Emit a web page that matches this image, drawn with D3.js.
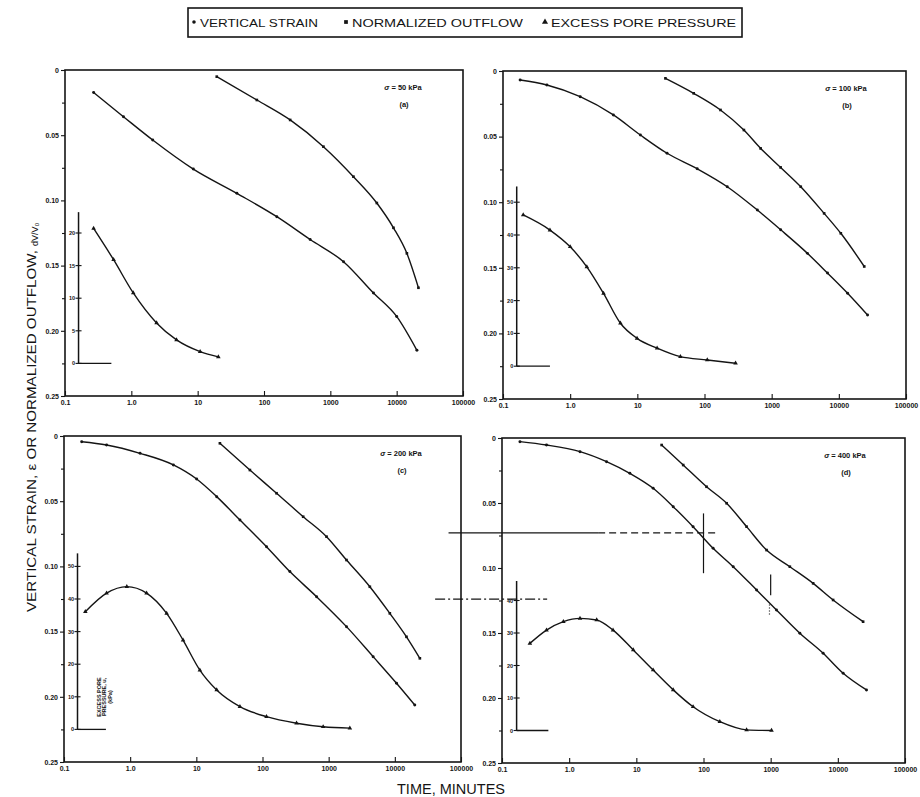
<!DOCTYPE html>
<html>
<head>
<meta charset="utf-8">
<script src="https://cdn.jsdelivr.net/npm/d3@7"></script>
<style>
  body { margin: 0; background: #fff; }
  svg { display: block; font-family: "Liberation Sans", Arial, sans-serif; }
</style>
</head>
<body>
<svg id="chart" width="920" height="797"></svg>
<script>
// ---------------- //
// DATA             //
// ---------------- //
var loads = [50, 100, 200, 400];                  // applied stress, kPa
var panelTags = ["(a)", "(b)", "(c)", "(d)"];
var timeTicks = [0.1, 1, 10, 100, 1000, 10000, 100000];
var timeTickLabels = ["0.1", "1.0", "10", "100", "1000", "10000", "100000"];
var strainTicks = [0, 0.05, 0.10, 0.15, 0.20, 0.25];
var strainTickLabels = ["0", "0.05", "0.10", "0.15", "0.20", "0.25"];
var strainMinorTicks = [0.025, 0.075, 0.125, 0.175, 0.225];
var legendLabels = ["VERTICAL STRAIN", "NORMALIZED OUTFLOW", "EXCESS PORE PRESSURE"];

// [time (min), vertical strain]
var strainA = [[0.27,0.0173],[0.76,0.0358],[2.1,0.0537],[8.6,0.076],[39,0.0946],[156,0.1125],[496,0.130],[1580,0.147],[4470,0.171],[10000,0.189],[20200,0.215]];
var strainB = [[0.18,0.0069],[0.45,0.0107],[1.41,0.0196],[4.4,0.0335],[11.1,0.0488],[27.7,0.0627],[77.8,0.0745],[218,0.0882],[612,0.106],[1360,0.121],[3410,0.139],[6780,0.154],[13500,0.1694],[26800,0.186]];
var strainC = [[0.185,0.0044],[0.44,0.0069],[1.41,0.0133],[4.5,0.0222],[10.1,0.033],[20.3,0.0465],[45.6,0.0644],[115,0.0849],[259,0.104],[656,0.1232],[1860,0.1462],[4700,0.1692],[10600,0.1896],[20000,0.2063]];
var strainD = [[0.185,0.0028],[0.46,0.0054],[1.45,0.0105],[3.6,0.0182],[8.0,0.0272],[17.8,0.0387],[35.4,0.0528],[70,0.0682],[139,0.0848],[277,0.099],[617,0.1169],[1220,0.1323],[2720,0.1502],[6040,0.1656],[12000,0.181],[26700,0.1938]];

// [time (min), normalized outflow dV/V0]
var outflowA = [[19.4,0.0051],[78,0.023],[248,0.0383],[787,0.0588],[2230,0.0818],[5020,0.102],[8950,0.121],[14250,0.1406],[21300,0.167]];
var outflowB = [[26.2,0.0056],[69,0.017],[173,0.0297],[386,0.045],[685,0.059],[1360,0.0735],[2710,0.0882],[6040,0.1085],[10700,0.1237],[23900,0.149]];
var outflowC = [[22.7,0.0056],[64.5,0.0261],[163,0.0439],[412,0.0619],[929,0.0772],[1860,0.0951],[4190,0.1156],[8400,0.136],[15000,0.154],[23900,0.1705]];
var outflowD = [[23.8,0.0054],[49.9,0.0208],[111,0.0375],[221,0.0502],[438,0.0682],[869,0.0862],[1930,0.099],[4290,0.1118],[8510,0.1246],[23800,0.1413]];

// [time (min), excess pore pressure kPa]
var poreA = [[0.27,20.7],[0.54,15.9],[1.07,10.8],[2.4,6.2],[4.8,3.6],[10.9,1.8],[20.5,1.0]];
var poreB = [[0.2,46.1],[0.5,41.5],[1.0,36.4],[1.77,30.3],[3.14,22.2],[5.6,13.1],[9.9,8.5],[19.7,5.5],[43.8,2.9],[110,1.9],[290,0.9]];
var poreC = [[0.21,36.1],[0.44,41.8],[0.89,43.8],[1.77,41.8],[3.56,35.6],[6.3,27.4],[11.3,18.2],[20.3,12.1],[45.6,7.0],[115,3.9],[327,1.9],[826,0.8],[2090,0.4]];
var poreD = [[0.26,26.8],[0.46,30.9],[0.82,33.5],[1.45,34.5],[2.57,34.0],[4.5,30.9],[9.0,24.8],[17.8,18.6],[35.4,12.5],[70,7.3],[175,2.7],[438,0.2],[1030,0]];

var poreTicksA = [0, 5, 10, 15, 20];
var poreTicksB = [0, 10, 20, 30, 40, 50];
var poreTicksC = [0, 10, 20, 30, 40, 50];
var poreTicksD = [0, 10, 20, 30, 40];

// construction lines drawn on panel (d): [time, strain]
var guideD = [
  [[0.016,0.073],[2.7,0.073]],
  [[2.7,0.073],[150,0.073]],
  [[100,0.058],[100,0.104]],
  [[0.0101,0.124],[0.47,0.124]],
  [[1000,0.105],[1000,0.121]],
  [[960,0.128],[960,0.137]]
];

// ---------------- //
// LAYOUT           //
// ---------------- //
var frames = [
  {x0: 65,  y0: 70,  x1: 463, y1: 396},
  {x0: 503, y0: 71,  x1: 906, y1: 399},
  {x0: 64,  y0: 436, x1: 461, y1: 762},
  {x0: 502, y0: 438, x1: 905, y1: 763}
];
// pore axis: at time t, baseline to tEnd, zero at strain "base", one "step" kPa per 0.025 strain
var poreLayout = [
  {t: 0.16,  tEnd: 0.5,  top: 0.109, base: 0.225, step: 5},
  {t: 0.16,  tEnd: 0.5,  top: 0.088, base: 0.225, step: 10},
  {t: 0.16,  tEnd: 0.43, top: 0.090, base: 0.225, step: 10},
  {t: 0.165, tEnd: 0.49, top: 0.110, base: 0.225, step: 10}
];
var guideDash = [null, "7,4", null, "10,3,2,3", null, "1,2"];
var ink = "#141414";

var strains = [strainA, strainB, strainC, strainD];
var outflows = [outflowA, outflowB, outflowC, outflowD];
var pores = [poreA, poreB, poreC, poreD];
var poreTicks = [poreTicksA, poreTicksB, poreTicksC, poreTicksD];

var svg = d3.select("#chart");

// LEGEND
var legend = svg.append("g");
legend.append("rect")
    .attr("x", 188).attr("y", 8).attr("width", 554).attr("height", 29)
    .attr("fill", "none").attr("stroke", ink).attr("stroke-width", 1.6);
var legendItems = [
  {mx: 194, tx: 200, len: 118, sym: d3.symbolCircle, size: 10},
  {mx: 346, tx: 352, len: 171, sym: d3.symbolSquare, size: 14},
  {mx: 545, tx: 551, len: 185, sym: d3.symbolTriangle, size: 16}
];
legendItems.forEach(function(it, i) {
  legend.append("path")
      .attr("transform", "translate(" + it.mx + ",22)")
      .attr("d", d3.symbol().type(it.sym).size(it.size)())
      .attr("fill", ink);
  legend.append("text")
      .attr("x", it.tx).attr("y", 27)
      .attr("font-size", 11).attr("fill", ink)
      .attr("textLength", it.len).attr("lengthAdjust", "spacingAndGlyphs")
      .text(legendLabels[i]);
});

// ---------------- //
// PANELS           //
// ---------------- //
frames.forEach(function(f, i) {
  var g = svg.append("g");
  var x = d3.scaleLog().domain([0.1, 100000]).range([f.x0, f.x1]);
  var y = d3.scaleLinear().domain([0, 0.25]).range([f.y0, f.y1]);
  var pl = poreLayout[i];
  var py = d3.scaleLinear().domain([0, pl.step]).range([y(pl.base), y(pl.base - 0.025)]);

  g.append("rect")
      .attr("x", f.x0).attr("y", f.y0)
      .attr("width", f.x1 - f.x0).attr("height", f.y1 - f.y0)
      .attr("fill", "none").attr("stroke", ink).attr("stroke-width", 1.6);

  // time axis, ticks pointing inside
  g.append("g")
      .attr("transform", "translate(0," + f.y1 + ")")
      .call(d3.axisBottom(x).tickValues(timeTicks)
          .tickFormat(function(d, k) { return timeTickLabels[k]; })
          .tickSize(-5).tickSizeOuter(0).tickPadding(4))
      .call(styleAxis);

  // strain axis
  g.append("g")
      .attr("transform", "translate(" + f.x0 + ",0)")
      .call(d3.axisLeft(y).tickValues(strainTicks)
          .tickFormat(function(d, k) { return strainTickLabels[k]; })
          .tickSize(4).tickSizeOuter(0).tickPadding(2))
      .call(styleAxis);
  g.append("g")
      .attr("transform", "translate(" + f.x0 + ",0)")
      .call(d3.axisLeft(y).tickValues(strainMinorTicks).tickFormat("").tickSize(3).tickSizeOuter(0))
      .call(styleAxis);

  // pore pressure axis
  var px = x(pl.t);
  g.append("line")
      .attr("x1", px).attr("x2", px)
      .attr("y1", y(pl.top)).attr("y2", py(0))
      .attr("stroke", ink).attr("stroke-width", 1.5);
  g.append("line")
      .attr("x1", px).attr("x2", x(pl.tEnd))
      .attr("y1", py(0)).attr("y2", py(0))
      .attr("stroke", ink).attr("stroke-width", 1.3);
  g.selectAll(".ptick").data(poreTicks[i]).join("line")
      .attr("x1", px - 3).attr("x2", px + 3)
      .attr("y1", function(d) { return py(d); })
      .attr("y2", function(d) { return py(d); })
      .attr("stroke", ink).attr("stroke-width", 1.1);
  g.selectAll(".plabel").data(poreTicks[i]).join("text")
      .attr("x", px - 3.5)
      .attr("y", function(d) { return py(d) + 2; })
      .attr("text-anchor", "end")
      .attr("font-size", 5.5).attr("font-weight", "bold").attr("fill", ink)
      .text(function(d) { return d; });

  // curves
  drawSeries(g, strains[i], x, y, d3.symbolCircle, 7);
  drawSeries(g, outflows[i], x, y, d3.symbolSquare, 7);
  drawSeries(g, pores[i], x, py, d3.symbolTriangle, 9);

  // load label
  var lab = g.append("text")
      .attr("x", f.x1 - 60).attr("y", f.y0 + 20)
      .attr("text-anchor", "middle")
      .attr("font-size", 7.5).attr("font-weight", "bold").attr("fill", ink);
  lab.append("tspan").attr("font-style", "italic").text("σ");
  lab.append("tspan").text(" = " + loads[i] + " kPa");
  g.append("text")
      .attr("x", f.x1 - 59).attr("y", f.y0 + 37)
      .attr("text-anchor", "middle")
      .attr("font-size", 7.5).attr("font-weight", "bold").attr("fill", ink)
      .text(panelTags[i]);

  if (i == 2) {
    // rotated title of the pore pressure axis
    var pt = g.append("text")
        .attr("transform", "translate(" + (px + 23) + "," + 697 + ")rotate(-90)")
        .attr("text-anchor", "middle")
        .attr("font-size", 5.5).attr("font-weight", "bold").attr("fill", ink);
    ["EXCESS PORE", "PRESSURE, u,", "(kPa)"].forEach(function(s, k) {
      pt.append("tspan").attr("x", 0).attr("dy", k == 0 ? 0 : 5.5).text(s);
    });
  }

  if (i == 3) {
    g.selectAll(".guide").data(guideD).join("path")
        .attr("d", d3.line().x(function(d) { return x(d[0]); }).y(function(d) { return y(d[1]); }))
        .attr("fill", "none").attr("stroke", ink).attr("stroke-width", 1.2)
        .attr("stroke-dasharray", function(d, k) { return guideDash[k]; });
  }
});

function drawSeries(g, data, xs, ys, sym, size) {
  g.append("path").datum(data)
      .attr("d", d3.line()
          .x(function(d) { return xs(d[0]); })
          .y(function(d) { return ys(d[1]); })
          .curve(d3.curveMonotoneX))
      .attr("fill", "none").attr("stroke", ink).attr("stroke-width", 1.4);
  g.selectAll(null).data(data).join("path")
      .attr("transform", function(d) { return "translate(" + xs(d[0]) + "," + ys(d[1]) + ")"; })
      .attr("d", d3.symbol().type(sym).size(size)())
      .attr("fill", ink);
}

function styleAxis(sel) {
  sel.select(".domain").remove();
  sel.selectAll("line").attr("stroke", ink).attr("stroke-width", 1.1);
  sel.selectAll("text")
      .attr("font-size", 7).attr("font-weight", "bold")
      .attr("font-family", "Liberation Sans, Arial, sans-serif")
      .attr("fill", ink);
}

// AXIS TITLES
svg.append("text")
    .attr("transform", "translate(36,612)rotate(-90)")
    .attr("font-size", 12.5).attr("fill", ink)
    .attr("textLength", 362).attr("lengthAdjust", "spacingAndGlyphs")
    .text("VERTICAL STRAIN, ε OR NORMALIZED OUTFLOW,");
svg.append("text")
    .attr("transform", "translate(38,246)rotate(-90)")
    .attr("font-size", 9).attr("fill", ink)
    .text("dV/V₀");
svg.append("text")
    .attr("x", 451).attr("y", 794)
    .attr("text-anchor", "middle")
    .attr("font-size", 14).attr("fill", ink)
    .attr("textLength", 108).attr("lengthAdjust", "spacingAndGlyphs")
    .text("TIME, MINUTES");
</script>
</body>
</html>
